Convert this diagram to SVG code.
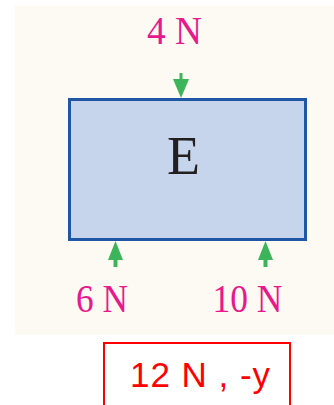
<svg xmlns="http://www.w3.org/2000/svg" width="334" height="405" viewBox="0 0 334 405">
<defs>
<style>
.lbl{font-family:"Liberation Serif","Times New Roman",serif;font-size:41px;fill:#e8198b}
.arr{fill:#3cb55a}
</style>
</defs>
<rect x="0" y="0" width="334" height="405" fill="#ffffff"/>
<rect x="15" y="6" width="319" height="329" fill="#fdfaf3"/>
<g id="nodeE">
<rect x="69.5" y="99.5" width="236" height="140" fill="#c6d5ec" stroke="#1f56a5" stroke-width="3"/>
<text x="183.5" y="174" font-family="Liberation Serif,serif" font-size="54" fill="#231f20" text-anchor="middle">E</text>
</g>
<g id="connectors">
<g class="arr">
<rect x="179.5" y="73" width="3" height="7"/>
<polygon points="173,79 189,79 181,98"/>
<polygon points="108,260 123,260 115.5,241"/>
<rect x="113.5" y="259" width="4" height="8"/>
<polygon points="258,260 273,260 265.5,241"/>
<rect x="263.5" y="259" width="4" height="8"/>
</g>
</g>
<g id="label4N"><text class="lbl" x="147" y="44" textLength="55" lengthAdjust="spacingAndGlyphs">4 N</text></g>
<g id="label6N"><text class="lbl" x="76" y="311.5" textLength="52" lengthAdjust="spacingAndGlyphs">6 N</text></g>
<g id="label10N"><text class="lbl" x="212.5" y="311.5" textLength="70" lengthAdjust="spacingAndGlyphs">10 N</text></g>
<g id="answer">
<rect x="104" y="343" width="186" height="70" fill="none" stroke="#ff0000" stroke-width="2"/>
<text x="130" y="387" font-family="Liberation Sans,Arial,sans-serif" font-size="35" fill="#ff0000" textLength="140">12 N , -y</text>
</g>
</svg>
